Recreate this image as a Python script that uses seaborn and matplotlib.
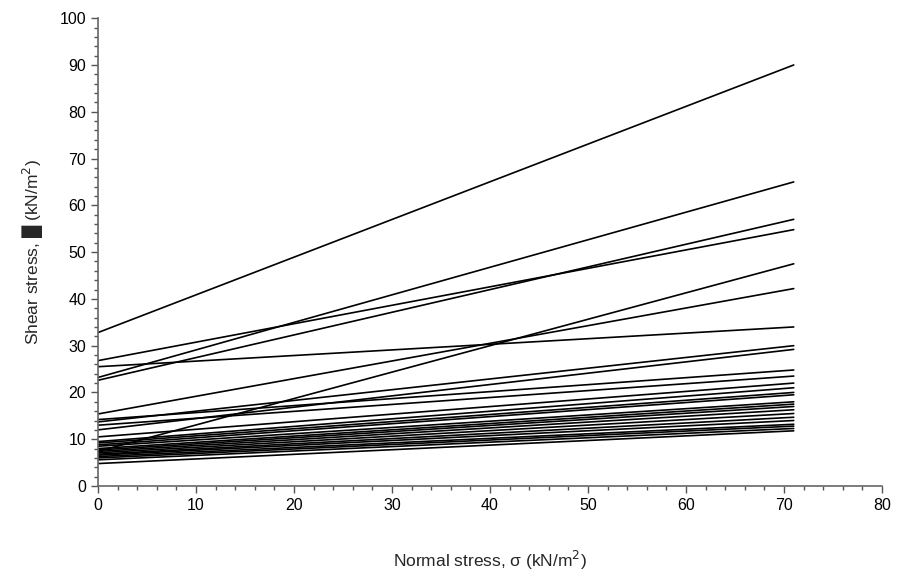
import matplotlib
matplotlib.use("Agg")
import matplotlib.pyplot as plt
from matplotlib.ticker import MultipleLocator
import pandas as pd
import seaborn as sns

# Failure envelopes: shear stress at sigma = 0 (cohesion) and at sigma = 71 kN/m2
sigma_range = [0, 71]
tau_at_zero = [32.8, 26.8, 25.5, 23.2, 22.6, 15.4, 14.2, 13.7, 13.0, 12.0,
               10.5, 9.5, 9.2, 8.8, 8.5, 7.4, 8.0, 7.7, 7.4, 7.1,
               6.8, 6.6, 6.3, 6.0, 5.6, 4.8]
tau_at_max = [90.0, 54.8, 34.0, 65.0, 57.0, 42.2, 24.8, 30.0, 23.5, 29.2,
              22.0, 21.0, 20.0, 19.5, 18.0, 47.5, 17.5, 17.0, 16.3, 15.5,
              14.7, 14.0, 13.2, 12.8, 12.3, 11.8]

x_ticks = [0, 10, 20, 30, 40, 50, 60, 70, 80]
y_ticks = [0, 10, 20, 30, 40, 50, 60, 70, 80, 90, 100]

rows = []
for i, (t0, t1) in enumerate(zip(tau_at_zero, tau_at_max)):
    rows.append({"sample": i, "sigma": sigma_range[0], "tau": t0})
    rows.append({"sample": i, "sigma": sigma_range[1], "tau": t1})
df = pd.DataFrame(rows)

sns.set_style("ticks")
plt.rcParams["font.family"] = ["Liberation Sans", "DejaVu Sans"]

fig = plt.figure(figsize=(8.99, 5.79), dpi=100)
ax = fig.add_axes([0.109, 0.1606, 0.872, 0.808])

sns.lineplot(data=df, x="sigma", y="tau", units="sample", estimator=None,
             color="black", linewidth=1.2, ax=ax, legend=False)

ax.set_xlim(0, 80)
ax.set_ylim(0, 100)
ax.set_xticks(x_ticks)
ax.set_yticks(y_ticks)
ax.xaxis.set_minor_locator(MultipleLocator(2))
ax.yaxis.set_minor_locator(MultipleLocator(2))
ax.tick_params(axis="both", which="major", length=5, width=1, color="#555555",
               labelsize=11.5, labelcolor="black")
ax.tick_params(axis="both", which="minor", length=3, width=1, color="#555555")

for side in ["top", "right"]:
    ax.spines[side].set_visible(False)
for side in ["left", "bottom"]:
    ax.spines[side].set_color("#666666")
    ax.spines[side].set_linewidth(1.2)

ax.set_xlabel("Normal stress, σ (kN/m$^2$)", fontsize=12.5, labelpad=26)
ax.set_ylabel("Shear stress, █ (kN/m$^2$)", fontsize=12.5, labelpad=10)

fig.savefig("out.png", dpi=100)
